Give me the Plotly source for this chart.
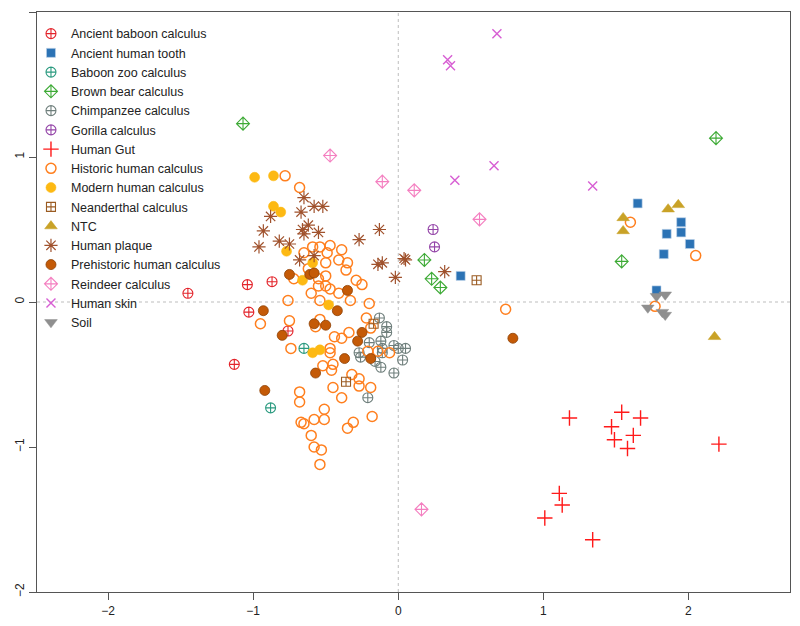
import plotly.graph_objects as go

# ---- data ----
groups = ["Ancient baboon calculus", "Ancient human tooth", "Baboon zoo calculus",
          "Brown bear calculus", "Chimpanzee calculus", "Gorilla calculus", "Human Gut",
          "Historic human calculus", "Modern human calculus", "Neanderthal calculus", "NTC",
          "Human plaque", "Prehistoric human calculus", "Reindeer calculus", "Human skin", "Soil"]

baboon_anc_x = [-1.45, -1.04, -0.87, -1.03, -0.76, -1.13]
baboon_anc_y = [0.06, 0.12, 0.14, -0.07, -0.20, -0.43]

tooth_x = [1.65, 1.95, 1.95, 1.85, 2.01, 1.83, 1.78, 0.43]
tooth_y = [0.68, 0.55, 0.48, 0.47, 0.40, 0.33, 0.08, 0.18]

baboon_zoo_x = [-0.65, -0.88]
baboon_zoo_y = [-0.32, -0.73]

bear_x = [-1.07, 0.18, 0.23, 0.29, 1.54, 2.19]
bear_y = [1.23, 0.29, 0.16, 0.10, 0.28, 1.13]

chimp_x = [-0.13, -0.08, -0.08, -0.20, -0.12, -0.11, -0.27, -0.26, -0.16, -0.11,
           -0.03, 0.00, 0.05, 0.03, -0.12, -0.03, -0.21]
chimp_y = [-0.11, -0.17, -0.21, -0.28, -0.27, -0.32, -0.35, -0.38, -0.41, -0.35,
           -0.30, -0.32, -0.32, -0.40, -0.45, -0.49, -0.66]

gorilla_x = [0.24, 0.25]
gorilla_y = [0.50, 0.38]

gut_x = [1.18, 1.54, 1.67, 1.47, 1.62, 1.49, 1.58, 2.21, 1.11, 1.13, 1.01, 1.34]
gut_y = [-0.80, -0.76, -0.80, -0.86, -0.92, -0.95, -1.01, -0.98, -1.32, -1.40, -1.49, -1.64]

historic_x = [-0.78, -0.68, -0.59, -0.54, -0.47, -0.39, -0.65, -0.49, -0.41, -0.50,
              -0.35, -0.62, -0.50, -0.36, -0.72, -0.55, -0.29, -0.25, -0.55, -0.50,
              -0.47, -0.60, -0.41, -0.54, -0.33, -0.20, -0.76, -0.95, -0.75, -0.54,
              -0.57, -0.44, -0.39, -0.34, -0.74, -0.47, -0.47, -0.22, -0.19, -0.21,
              -0.14, -0.06, -0.52, -0.45, -0.46, -0.32, -0.27, -0.27, -0.19, -0.45,
              -0.39, -0.68, -0.68, -0.51, -0.18, -0.67, -0.65, -0.58, -0.51, -0.31,
              -0.35, -0.60, -0.58, -0.53, -0.54, 0.74, 1.60, 2.05, 1.77]
historic_y = [0.87, 0.79, 0.38, 0.38, 0.39, 0.36, 0.34, 0.34, 0.29, 0.27,
              0.27, 0.23, 0.18, 0.22, 0.16, 0.16, 0.15, 0.12, 0.11, 0.11,
              0.09, 0.06, 0.06, 0.01, 0.01, -0.01, 0.01, -0.15, -0.13, -0.12,
              -0.17, -0.24, -0.25, -0.21, -0.32, -0.32, -0.35, -0.11, -0.18, -0.34,
              -0.34, -0.35, -0.44, -0.43, -0.47, -0.50, -0.53, -0.58, -0.59, -0.59,
              -0.66, -0.62, -0.69, -0.74, -0.79, -0.83, -0.84, -0.81, -0.81, -0.83,
              -0.87, -0.92, -1.00, -1.02, -1.12, -0.05, 0.55, 0.32, -0.03]

modern_x = [-0.99, -0.86, -0.86, -0.81, -0.77, -0.59, -0.66, -0.48, -0.59, -0.54]
modern_y = [0.86, 0.87, 0.66, 0.62, 0.35, 0.27, 0.15, -0.02, -0.35, -0.33]

neander_x = [-0.17, -0.36, 0.54]
neander_y = [-0.15, -0.55, 0.15]

ntc_x = [1.55, 1.55, 1.86, 1.93, 2.18]
ntc_y = [0.58, 0.49, 0.64, 0.67, -0.24]

plaque_x = [-0.65, -0.58, -0.52, -0.88, -0.67, -0.62, -0.66, -0.65, -0.55, -0.93,
            -0.82, -0.75, -0.96, -0.68, -0.58, -0.13, -0.27, -0.11, -0.14, 0.04,
            0.05, -0.02, 0.32]
plaque_y = [0.72, 0.66, 0.66, 0.59, 0.62, 0.53, 0.50, 0.47, 0.48, 0.49,
            0.42, 0.40, 0.38, 0.29, 0.32, 0.50, 0.43, 0.27, 0.26, 0.30,
            0.29, 0.17, 0.21]

prehist_x = [-0.75, -0.61, -0.58, -0.35, -0.93, -0.42, -0.58, -0.50, -0.80, -0.25,
             -0.28, -0.37, -0.19, -0.57, -0.92, 0.79]
prehist_y = [0.19, 0.19, 0.20, 0.08, -0.06, -0.06, -0.15, -0.16, -0.23, -0.21,
             -0.27, -0.39, -0.39, -0.49, -0.61, -0.25]

reindeer_x = [-0.47, -0.11, 0.11, 0.56, 0.16]
reindeer_y = [1.01, 0.83, 0.77, 0.57, -1.43]

skin_x = [0.68, 0.34, 0.36, 0.66, 0.39, 1.34]
skin_y = [1.85, 1.67, 1.63, 0.94, 0.84, 0.80]

soil_x = [1.78, 1.84, 1.72, 1.82, 1.84]
soil_y = [0.04, 0.05, -0.04, -0.07, -0.09]

xs = [baboon_anc_x, tooth_x, baboon_zoo_x, bear_x, chimp_x, gorilla_x, gut_x, historic_x,
      modern_x, neander_x, ntc_x, plaque_x, prehist_x, reindeer_x, skin_x, soil_x]
ys = [baboon_anc_y, tooth_y, baboon_zoo_y, bear_y, chimp_y, gorilla_y, gut_y, historic_y,
      modern_y, neander_y, ntc_y, plaque_y, prehist_y, reindeer_y, skin_y, soil_y]

# ---- styles ----
styles = [
    dict(symbol="circle-cross-open", size=10, color="#E3242B", line=dict(width=1.1, color="#E3242B")),
    dict(symbol="square", size=9, color="#2C73B5", line=dict(width=0.6, color="#BFD4EA")),
    dict(symbol="circle-cross-open", size=10, color="#2A9A7F", line=dict(width=1.1, color="#2A9A7F")),
    dict(symbol="diamond-cross-open", size=10, color="#3DAA35", line=dict(width=1.1, color="#3DAA35")),
    dict(symbol="circle-cross-open", size=10, color="#6F7F7C", line=dict(width=1.1, color="#6F7F7C")),
    dict(symbol="circle-cross-open", size=10, color="#9445A8", line=dict(width=1.1, color="#9445A8")),
    dict(symbol="cross-thin-open", size=11, color="#FF1A1A", line=dict(width=1.4, color="#FF1A1A")),
    dict(symbol="circle-open", size=10, color="#FF7F1E", line=dict(width=1.5, color="#FF7F1E")),
    dict(symbol="circle", size=10, color="#FDB913", line=dict(width=0.5, color="#FDB913")),
    dict(symbol="square-cross-open", size=9, color="#9A5B22", line=dict(width=1.1, color="#9A5B22")),
    dict(symbol="triangle-up", size=11, color="#C9A227", line=dict(width=0.5, color="#C9A227")),
    dict(symbol="asterisk-open", size=11, color="#A0522D", line=dict(width=1.2, color="#A0522D")),
    dict(symbol="circle", size=10, color="#C45A07", line=dict(width=0.8, color="#8E4105")),
    dict(symbol="diamond-cross-open", size=10, color="#F47FC0", line=dict(width=1.1, color="#F47FC0")),
    dict(symbol="x-thin-open", size=9, color="#D75ED3", line=dict(width=1.4, color="#D75ED3")),
    dict(symbol="triangle-down", size=11, color="#8F8F8F", line=dict(width=0.5, color="#8F8F8F")),
]

fig = go.Figure()
for name, x, y, st in zip(groups, xs, ys, styles):
    fig.add_trace(go.Scatter(x=x, y=y, mode="markers", name=name, marker=st))

fig.add_hline(y=0, line=dict(color="#BDBDBD", width=1, dash="dot"), layer="below")
fig.add_vline(x=0, line=dict(color="#BDBDBD", width=1, dash="dot"), layer="below")

axis_common = dict(showgrid=False, zeroline=False, showline=True, linecolor="#555555",
                   linewidth=1.2, mirror=True, ticks="outside", ticklen=7,
                   tickcolor="#555555", tickwidth=1.2, automargin=False,
                   tickfont=dict(family="Liberation Sans, Arial", size=12, color="#222222"))

# page body has an 8px margin, so the figure is sized/offset to compensate
fig.update_layout(
    width=792, height=618,
    margin=dict(l=29, r=10, t=4, b=34, autoexpand=False),
    plot_bgcolor="white", paper_bgcolor="white",
    font=dict(family="Liberation Sans, Arial", size=12, color="#222222"),
    xaxis=dict(range=[-2.49, 2.70], tickvals=[-2, -1, 0, 1, 2], **axis_common),
    yaxis=dict(range=[-2, 2], tickvals=[-2, -1, 0, 1, 2], tickangle=-90, **axis_common),
    legend=dict(x=-0.008, y=0.988, xanchor="left", yanchor="top", bgcolor="rgba(0,0,0,0)",
                borderwidth=0, font=dict(size=12.5, color="#222222"), itemwidth=30,
                tracegroupgap=0),
    showlegend=True,
)

fig.write_html("out.html")
